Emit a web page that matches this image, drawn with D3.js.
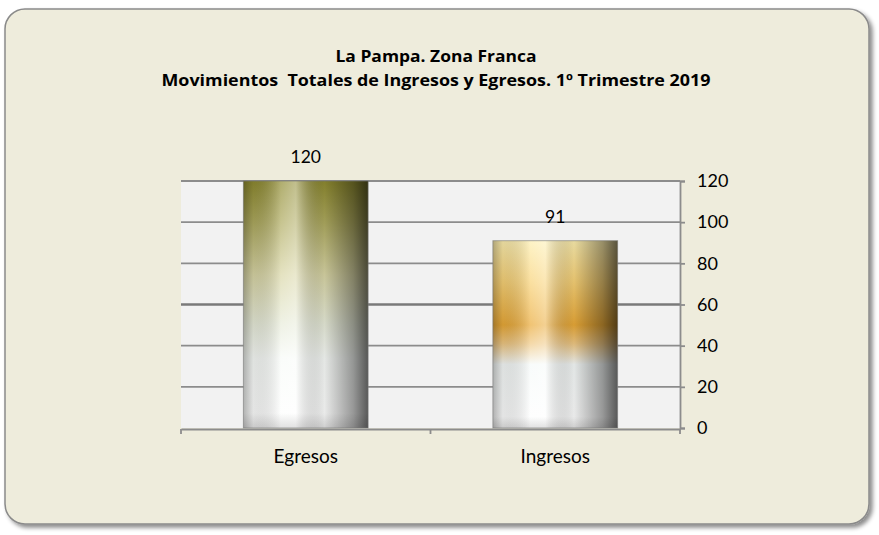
<!DOCTYPE html>
<html><head><meta charset="utf-8">
<script src="https://cdn.jsdelivr.net/npm/d3@7"></script>
<style>body{margin:0;background:#fff;}svg{display:block;}</style>
</head><body>
<script>
const categories = ["Egresos", "Ingresos"];
const values = [120, 91];
const yTicks = [0, 20, 40, 60, 80, 100, 120];
const titleLines = ["La Pampa. Zona Franca", "Movimientos  Totales de Ingresos y Egresos. 1º Trimestre 2019"];

const W = 879, H = 535;
const svg = d3.select("body").append("svg").attr("width", W).attr("height", H);
const defs = svg.append("defs");

const f = defs.append("filter").attr("id","sh").attr("x","-5%").attr("y","-5%").attr("width","110%").attr("height","110%");
f.append("feDropShadow").attr("dx",3).attr("dy",3).attr("stdDeviation",2).attr("flood-color","#000").attr("flood-opacity",0.45);

svg.append("rect").attr("x",5).attr("y",9).attr("width",864).attr("height",515).attr("rx",20)
  .attr("fill","#EEECDC").attr("stroke","#8a8a8a").attr("stroke-width",1.5).attr("filter","url(#sh)");

const font = "Lato, 'Open Sans', sans-serif";
const titleWidths = [201, 549];
const title = svg.append("g").attr("font-family","'Open Sans', Lato, sans-serif").attr("font-weight","bold").attr("font-size",16.5).attr("fill","#000");
titleLines.forEach((t,i)=>title.append("text").attr("x",436).attr("y",62+i*24).attr("text-anchor","middle")
  .style("white-space","pre").attr("textLength",titleWidths[i]).attr("lengthAdjust","spacingAndGlyphs").text(t));

const m = {left:181, right:680, top:181, bottom:428};
const x = d3.scaleBand().domain(categories).range([m.left, m.right]).paddingInner(0.5).paddingOuter(0.25);
const y = d3.scaleLinear().domain([0,120]).range([m.bottom, m.top]);

svg.append("rect").attr("x",m.left).attr("y",m.top).attr("width",m.right-m.left).attr("height",m.bottom-m.top)
  .attr("fill","#F2F2F2");

svg.append("g").selectAll("line").data(yTicks.filter(d=>d>0)).join("line")
  .attr("x1",m.left).attr("x2",m.right).attr("y1",d=>y(d)).attr("y2",d=>y(d))
  .attr("stroke",d=>d===60?"#7a7a7a":"#8c8c8c").attr("stroke-width",d=>d===60?2.5:1.8);

function vgrad(id, stops){
  const g = defs.append("linearGradient").attr("id",id).attr("x1",0).attr("y1",0).attr("x2",0).attr("y2",1);
  stops.forEach(s=>g.append("stop").attr("offset",s[0]).attr("stop-color",s[1]));
}
vgrad("g0", [[0,"#8e8a30"],[0.15,"#aba75a"],[0.38,"#d9d6a6"],[0.58,"#e8ecda"],[0.72,"#f8fbf8"],[1,"#ffffff"]]);
vgrad("g1", [[0,"#fdeeae"],[0.22,"#f8d277"],[0.45,"#eaaa38"],[0.55,"#f0c985"],[0.66,"#f6faf9"],[1,"#ffffff"]]);
const hg = defs.append("linearGradient").attr("id","hs").attr("x1",0).attr("y1",0).attr("x2",1).attr("y2",0);
[[0,"#000",0.3],[0.08,"#000",0.1],[0.3,"#fff",0.3],[0.42,"#fff",0.45],[0.65,"#000",0.08],[0.88,"#000",0.4],[1,"#000",0.65]]
  .forEach(s=>hg.append("stop").attr("offset",s[0]).attr("stop-color",s[1]).attr("stop-opacity",s[2]));
const bg2 = defs.append("linearGradient").attr("id","bs").attr("x1",0).attr("y1",0).attr("x2",0).attr("y2",1);
[[0,"#000",0],[0.94,"#000",0],[1,"#000",0.12]].forEach(s=>bg2.append("stop").attr("offset",s[0]).attr("stop-color",s[1]).attr("stop-opacity",s[2]));

const bars = svg.append("g").selectAll("g").data(categories.map((c,i)=>({c,v:values[i],i}))).join("g");
["g","hs","bs"].forEach(k=>{
  bars.append("rect").attr("x",d=>x(d.c)).attr("y",d=>y(d.v)).attr("width",x.bandwidth()).attr("height",d=>y(0)-y(d.v))
    .attr("fill",d=>k==="g"?`url(#g${d.i})`:`url(#${k})`);
});
bars.append("rect").attr("x",d=>x(d.c)).attr("y",d=>y(d.v)).attr("width",x.bandwidth()).attr("height",d=>y(0)-y(d.v))
  .attr("fill","none").attr("stroke","#777").attr("stroke-opacity",0.6).attr("stroke-width",1);

svg.append("g").selectAll("text").data(categories.map((c,i)=>({c,v:values[i]}))).join("text")
  .attr("x",d=>x(d.c)+x.bandwidth()/2).attr("y",d=>y(d.v)-18).attr("text-anchor","middle")
  .attr("font-family",font).attr("font-size",17.5).attr("fill","#000").text(d=>d.v);

const ya = svg.append("g").attr("transform",`translate(${m.right},0)`)
  .call(d3.axisRight(y).tickValues(yTicks).tickSize(5).tickPadding(12));
ya.select(".domain").attr("stroke","#8c8c8c").attr("stroke-width",1.8);
ya.selectAll(".tick line").attr("stroke","#8c8c8c").attr("stroke-width",1.8);
ya.selectAll("text").attr("font-family",font).attr("font-size",18).attr("fill","#000");

const xa = svg.append("g").attr("transform",`translate(0,${m.bottom+1})`)
  .call(d3.axisBottom(x).tickSize(0));
xa.select(".domain").attr("stroke","#8c8c8c").attr("stroke-width",1.8);
xa.selectAll("text").attr("y",34).attr("dy",0).attr("font-family",font).attr("font-size",19).attr("fill","#000");
const bounds = [m.left, (x(categories[0])+x.bandwidth()+x(categories[1]))/2, m.right];
xa.append("g").selectAll("line").data(bounds).join("line")
  .attr("x1",d=>d).attr("x2",d=>d).attr("y1",0).attr("y2",5).attr("stroke","#8c8c8c").attr("stroke-width",1.8);
</script>
</body></html>
